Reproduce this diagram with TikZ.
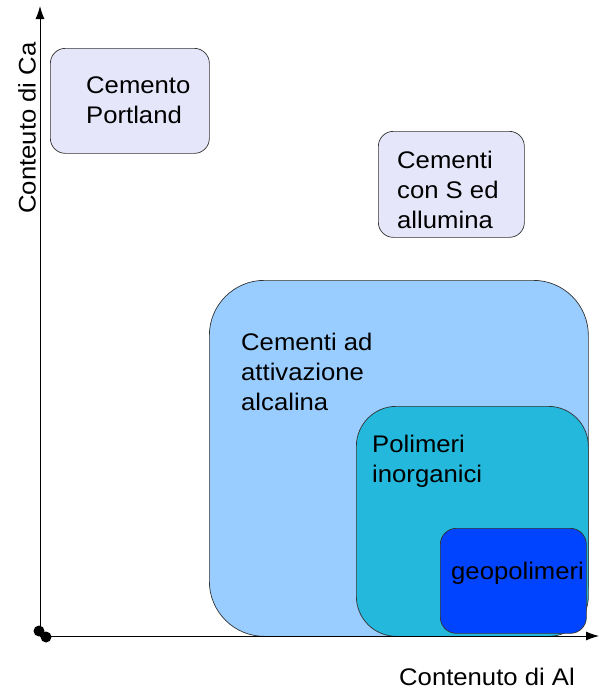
\documentclass[tikz,border=0pt]{standalone}
\usepackage{fontspec}
\setmainfont{Liberation Sans}[FakeStretch=1.07]
\usetikzlibrary{arrows.meta}
\definecolor{lav}{HTML}{E6E6FA}
\definecolor{lblue}{HTML}{99CCFF}
\definecolor{cyanb}{HTML}{23B8DC}
\definecolor{deepb}{HTML}{0044FF}
\begin{document}
\begin{tikzpicture}[x=1pt,y=-1pt,
  box/.style={draw=black!80, line width=0.7pt, anchor=north west, inner sep=0pt},
  lbl/.style={anchor=north west, inner sep=0pt, align=left, font=\fontsize{24}{30}\selectfont},
  axis/.style={line width=0.9pt, -{Latex[length=13pt,width=9pt]}}]
\useasboundingbox (0,0) rectangle (599,691);
% boxes
\node[box, fill=lav, rounded corners=15pt, minimum width=159pt, minimum height=105pt] (portland) at (50,48) {};
\node[box, fill=lav, rounded corners=15pt, minimum width=146pt, minimum height=106pt] (sal) at (378,131) {};
\node[box, fill=lblue, rounded corners=55pt, minimum width=379pt, minimum height=356pt] (aaa) at (209,280) {};
\node[box, fill=cyanb, rounded corners=40pt, minimum width=232pt, minimum height=230pt] (poli) at (356,406) {};
\node[box, fill=deepb, rounded corners=16pt, minimum width=146pt, minimum height=105pt] (geo) at (440,528) {};
% labels
\node[lbl] (tportland) at (86,77) {Cemento\\Portland};
\node[lbl] (tsal) at (397,151) {Cementi\\con S ed\\allumina};
\node[lbl] (taaa) at (241,333) {Cementi ad\\attivazione\\alcalina};
\node[lbl] (tpoli) at (372,435) {Polimeri\\inorganici};
\node[lbl] (tgeo) at (451,562) {geopolimeri};
% axes
\coordinate (o) at (40,636);
\coordinate (xend) at (599,636);
\coordinate (yend) at (40,6);
\draw[axis] (o) -- (xend);
\draw[axis] (o) -- (yend);
\fill (39,631) circle (5.5pt);
\fill (46,637) circle (5.5pt);
\node[font=\fontsize{24}{28}\selectfont, rotate=90] (ylab) at (27,128) {Conteuto di Ca};
\node[font=\fontsize{24}{28}\selectfont] (xlab) at (487,677) {Contenuto di Al};
\end{tikzpicture}
\end{document}
